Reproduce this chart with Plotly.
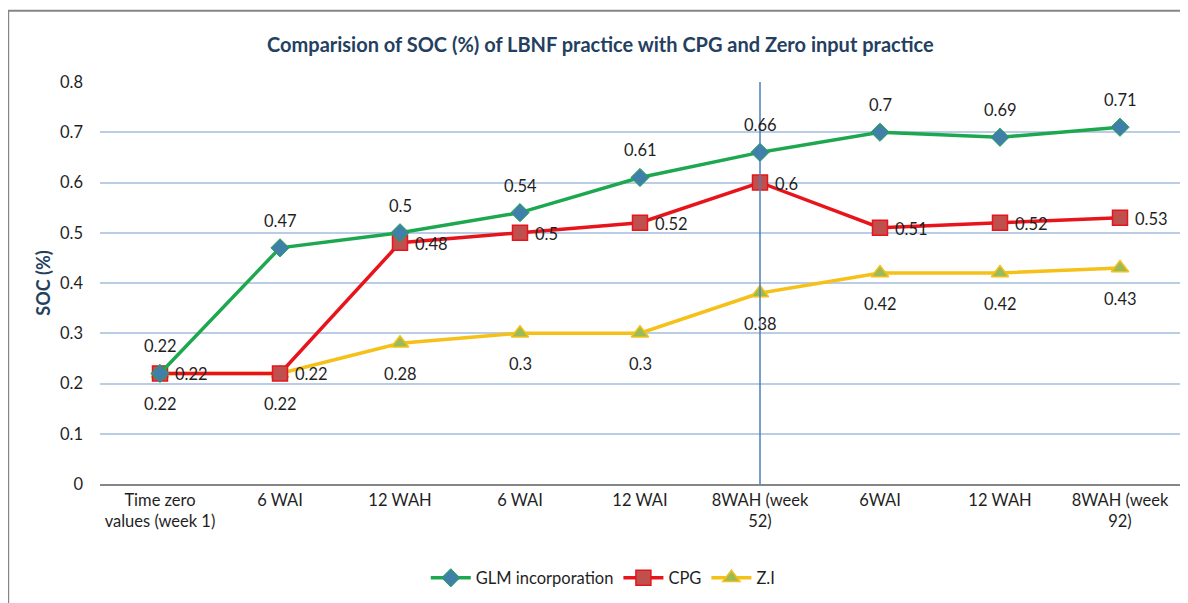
import plotly.graph_objects as go

categories = ["Time zero<br>values (week 1)", "6 WAI", "12 WAH", "6 WAI", "12 WAI",
              "8WAH (week<br>52)", "6WAI", "12 WAH", "8WAH (week<br>92)"]
glm = [0.22, 0.47, 0.50, 0.54, 0.61, 0.66, 0.70, 0.69, 0.71]
cpg = [0.22, 0.22, 0.48, 0.50, 0.52, 0.60, 0.51, 0.52, 0.53]
zi = [0.22, 0.22, 0.28, 0.30, 0.30, 0.38, 0.42, 0.42, 0.43]
y_ticks = [0, 0.1, 0.2, 0.3, 0.4, 0.5, 0.6, 0.7, 0.8]

x = list(range(len(categories)))
FONT = "Lato"
TXT = "#1F1F1F"
LBL = dict(family=FONT, size=16.5, color=TXT)

fig = go.Figure()
fig.add_trace(go.Scatter(
    x=x, y=zi, name="Z.I", mode="lines+markers",
    line=dict(color="#F5C018", width=3.5),
    marker=dict(symbol="triangle-up", size=15, color="#9BBB59",
                line=dict(color="#F5C018", width=1.5)),
))
fig.add_trace(go.Scatter(
    x=x, y=cpg, name="CPG", mode="lines+markers",
    line=dict(color="#E8141B", width=3.5),
    marker=dict(symbol="square", size=15, color="#C0504D",
                line=dict(color="#E8141B", width=1.5)),
))
fig.add_trace(go.Scatter(
    x=x, y=glm, name="GLM incorporation", mode="lines+markers",
    line=dict(color="#1DA850", width=3.5),
    marker=dict(symbol="diamond", size=14, color="#3F7FA8",
                line=dict(color="#1DA850", width=1)),
))

# data labels, positioned from the data through the axes
for xi, v in zip(x, glm):
    fig.add_annotation(x=xi, y=v, xref="x", yref="y", text=f"{v:g}", showarrow=False,
                       yshift=27, font=LBL)
for xi, v in zip(x, cpg):
    fig.add_annotation(x=xi, y=v, xref="x", yref="y", text=f"{v:g}", showarrow=False,
                       xanchor="left", xshift=13, yshift=-1, font=LBL)
for xi, v in zip(x, zi):
    fig.add_annotation(x=xi, y=v, xref="x", yref="y", text=f"{v:g}", showarrow=False,
                       yshift=-31, font=LBL)

fig.add_shape(type="line", xref="x", yref="y", x0=5, x1=5, y0=0, y1=0.808,
              line=dict(color="#4A7EBB", width=1.5), layer="above")
fig.add_shape(type="rect", xref="paper", yref="paper",
              x0=-0.085, x1=1.06, y0=-0.32, y1=1.177,
              line=dict(color="#868686", width=2), layer="below")

fig.update_layout(
    width=1180, height=595,
    margin=dict(l=92, r=8, t=74, b=119),
    paper_bgcolor="white", plot_bgcolor="white",
    font=dict(family=FONT, color=TXT),
    title=dict(text="<b>Comparision of SOC (%) of LBNF practice with CPG and Zero input practice</b>",
               x=0.502, xanchor="center", y=0.938, yanchor="middle",
               font=dict(family=FONT, size=20, color="#243F60")),
    showlegend=True,
    legend=dict(orientation="h", x=0.466, xanchor="center", y=-0.234, yanchor="middle",
                traceorder="reversed", font=dict(family=FONT, size=16.5, color=TXT),
                itemwidth=40),
    xaxis=dict(range=[-0.5, 8.5], tickvals=x, ticktext=categories,
               showgrid=False, zeroline=False, showline=True, linecolor="#868686",
               linewidth=1.5, ticks="", tickfont=dict(family=FONT, size=16.5, color=TXT)),
    yaxis=dict(range=[0, 0.8], tickvals=y_ticks, ticktext=[f"{v:g}" for v in y_ticks],
               showgrid=True, gridcolor="#B9CDE5", gridwidth=1.5, zeroline=False,
               showline=False, ticklabelstandoff=16,
               tickfont=dict(family=FONT, size=16.5, color=TXT),
               title=dict(text="<b>SOC (%)</b>", font=dict(family=FONT, size=18, color="#243F60"),
                          standoff=4)),
)

fig.write_html("out.html")
